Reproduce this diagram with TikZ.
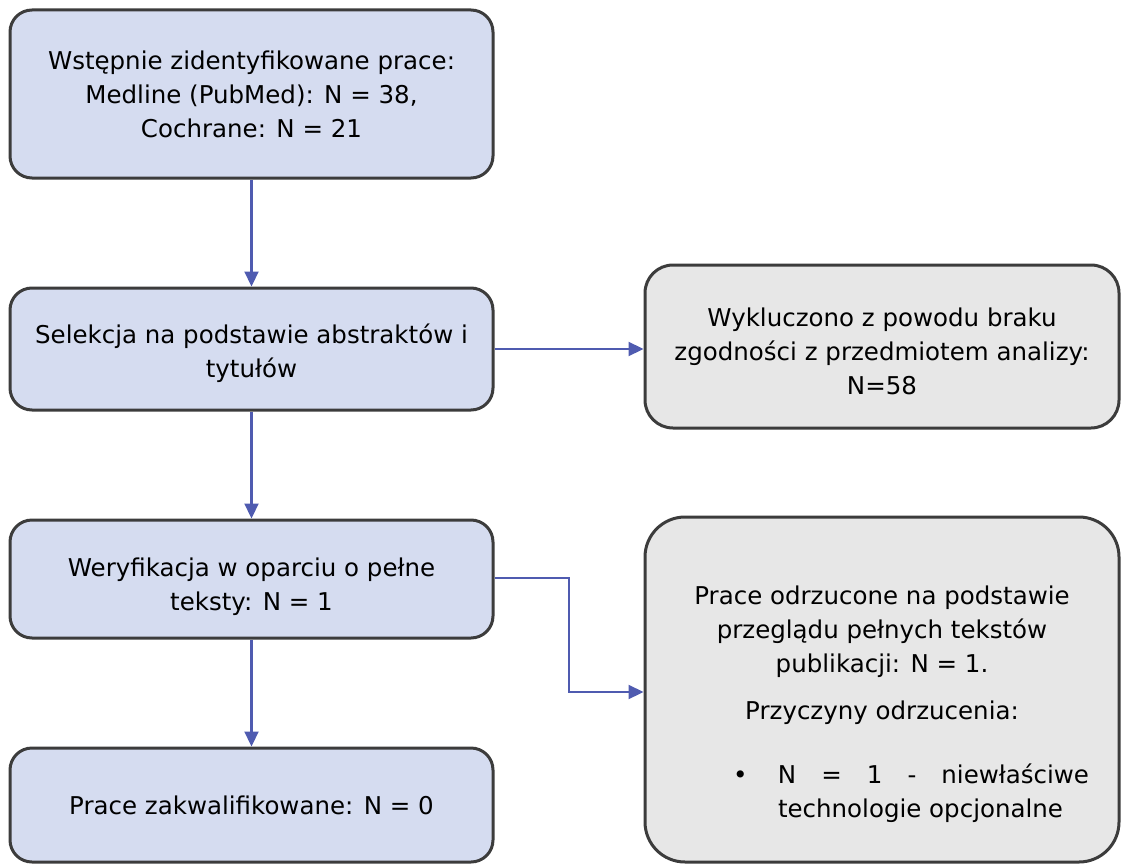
\documentclass[tikz,border=0pt]{standalone}
\usepackage{fontspec}
\setmainfont{DejaVu Sans}
\usetikzlibrary{arrows.meta}
\definecolor{boxblue}{HTML}{D5DCF0}
\definecolor{boxgray}{HTML}{E7E7E7}
\definecolor{boxline}{HTML}{3C3C3C}
\definecolor{arrowblue}{HTML}{4F5BB0}
\tikzset{
	bluebox/.style={draw=boxline, fill=boxblue, line width=3pt, rounded corners=22pt, minimum width=483pt, align=center},
	graybox/.style={draw=boxline, fill=boxgray, line width=3pt, rounded corners=40pt, minimum width=474pt, align=center},
	flow/.style={draw=arrowblue, line width=2.2pt, -{Triangle[length=15pt, width=14pt]}}
}
% pushes the text of a box down
\newcommand{\opusc}[1]{\mbox{}\\[#1]}
\begin{document}
\begin{tikzpicture}[x=1pt, y=-1pt, font=\fontsize{24.5}{34}\selectfont]
		\useasboundingbox (0, 0) rectangle (1121, 864);
		\node[bluebox, minimum height=168pt] (ident) at (251.5, 94) {Wstępnie zidentyfikowane prace:\\Medline (PubMed): N = 38,\\Cochrane: N = 21};
		\node[bluebox, minimum height=122pt] (selekcja) at (251.5, 349) {\opusc{-6pt}Selekcja na podstawie abstraktów i\\tytułów};
		\node[bluebox, minimum height=118pt] (weryf) at (251.5, 579) {\opusc{0pt}Weryfikacja w oparciu o pełne\\teksty: N = 1};
		\node[bluebox, minimum height=114pt] (zakw) at (251.5, 805) {Prace zakwalifikowane: N = 0};
		\node[graybox, rounded corners=28pt, minimum height=163pt] (wykl) at (882, 346.5) {\opusc{-6pt}Wykluczono z powodu braku\\zgodności z przedmiotem analizy:\\N=58};
		\node[graybox, minimum height=345pt] (odrz) at (882, 689.5) {\opusc{14pt}Prace odrzucone na podstawie\\przeglądu pełnych tekstów\\publikacji: N = 1.\\[13pt]Przyczyny odrzucenia:\\[30pt]\parbox[t]{414pt}{\hspace*{58pt}\makebox[45pt][l]{\textbullet}\makebox[311pt][s]{N = 1 - niewłaściwe}\\\hspace*{103pt}technologie opcjonalne}};
		\coordinate (lamanie) at (569, 578);
		\draw[flow] (ident) -- (selekcja);
		\draw[flow] (selekcja) -- (weryf);
		\draw[flow] (weryf) -- (zakw);
		\draw[flow] (selekcja.east) -- (wykl.west |- selekcja.east);
		\draw[flow] (weryf.east |- lamanie) -- (lamanie) |- ([yshift=-2.5pt]odrz.west);
	\end{tikzpicture}
\end{document}
